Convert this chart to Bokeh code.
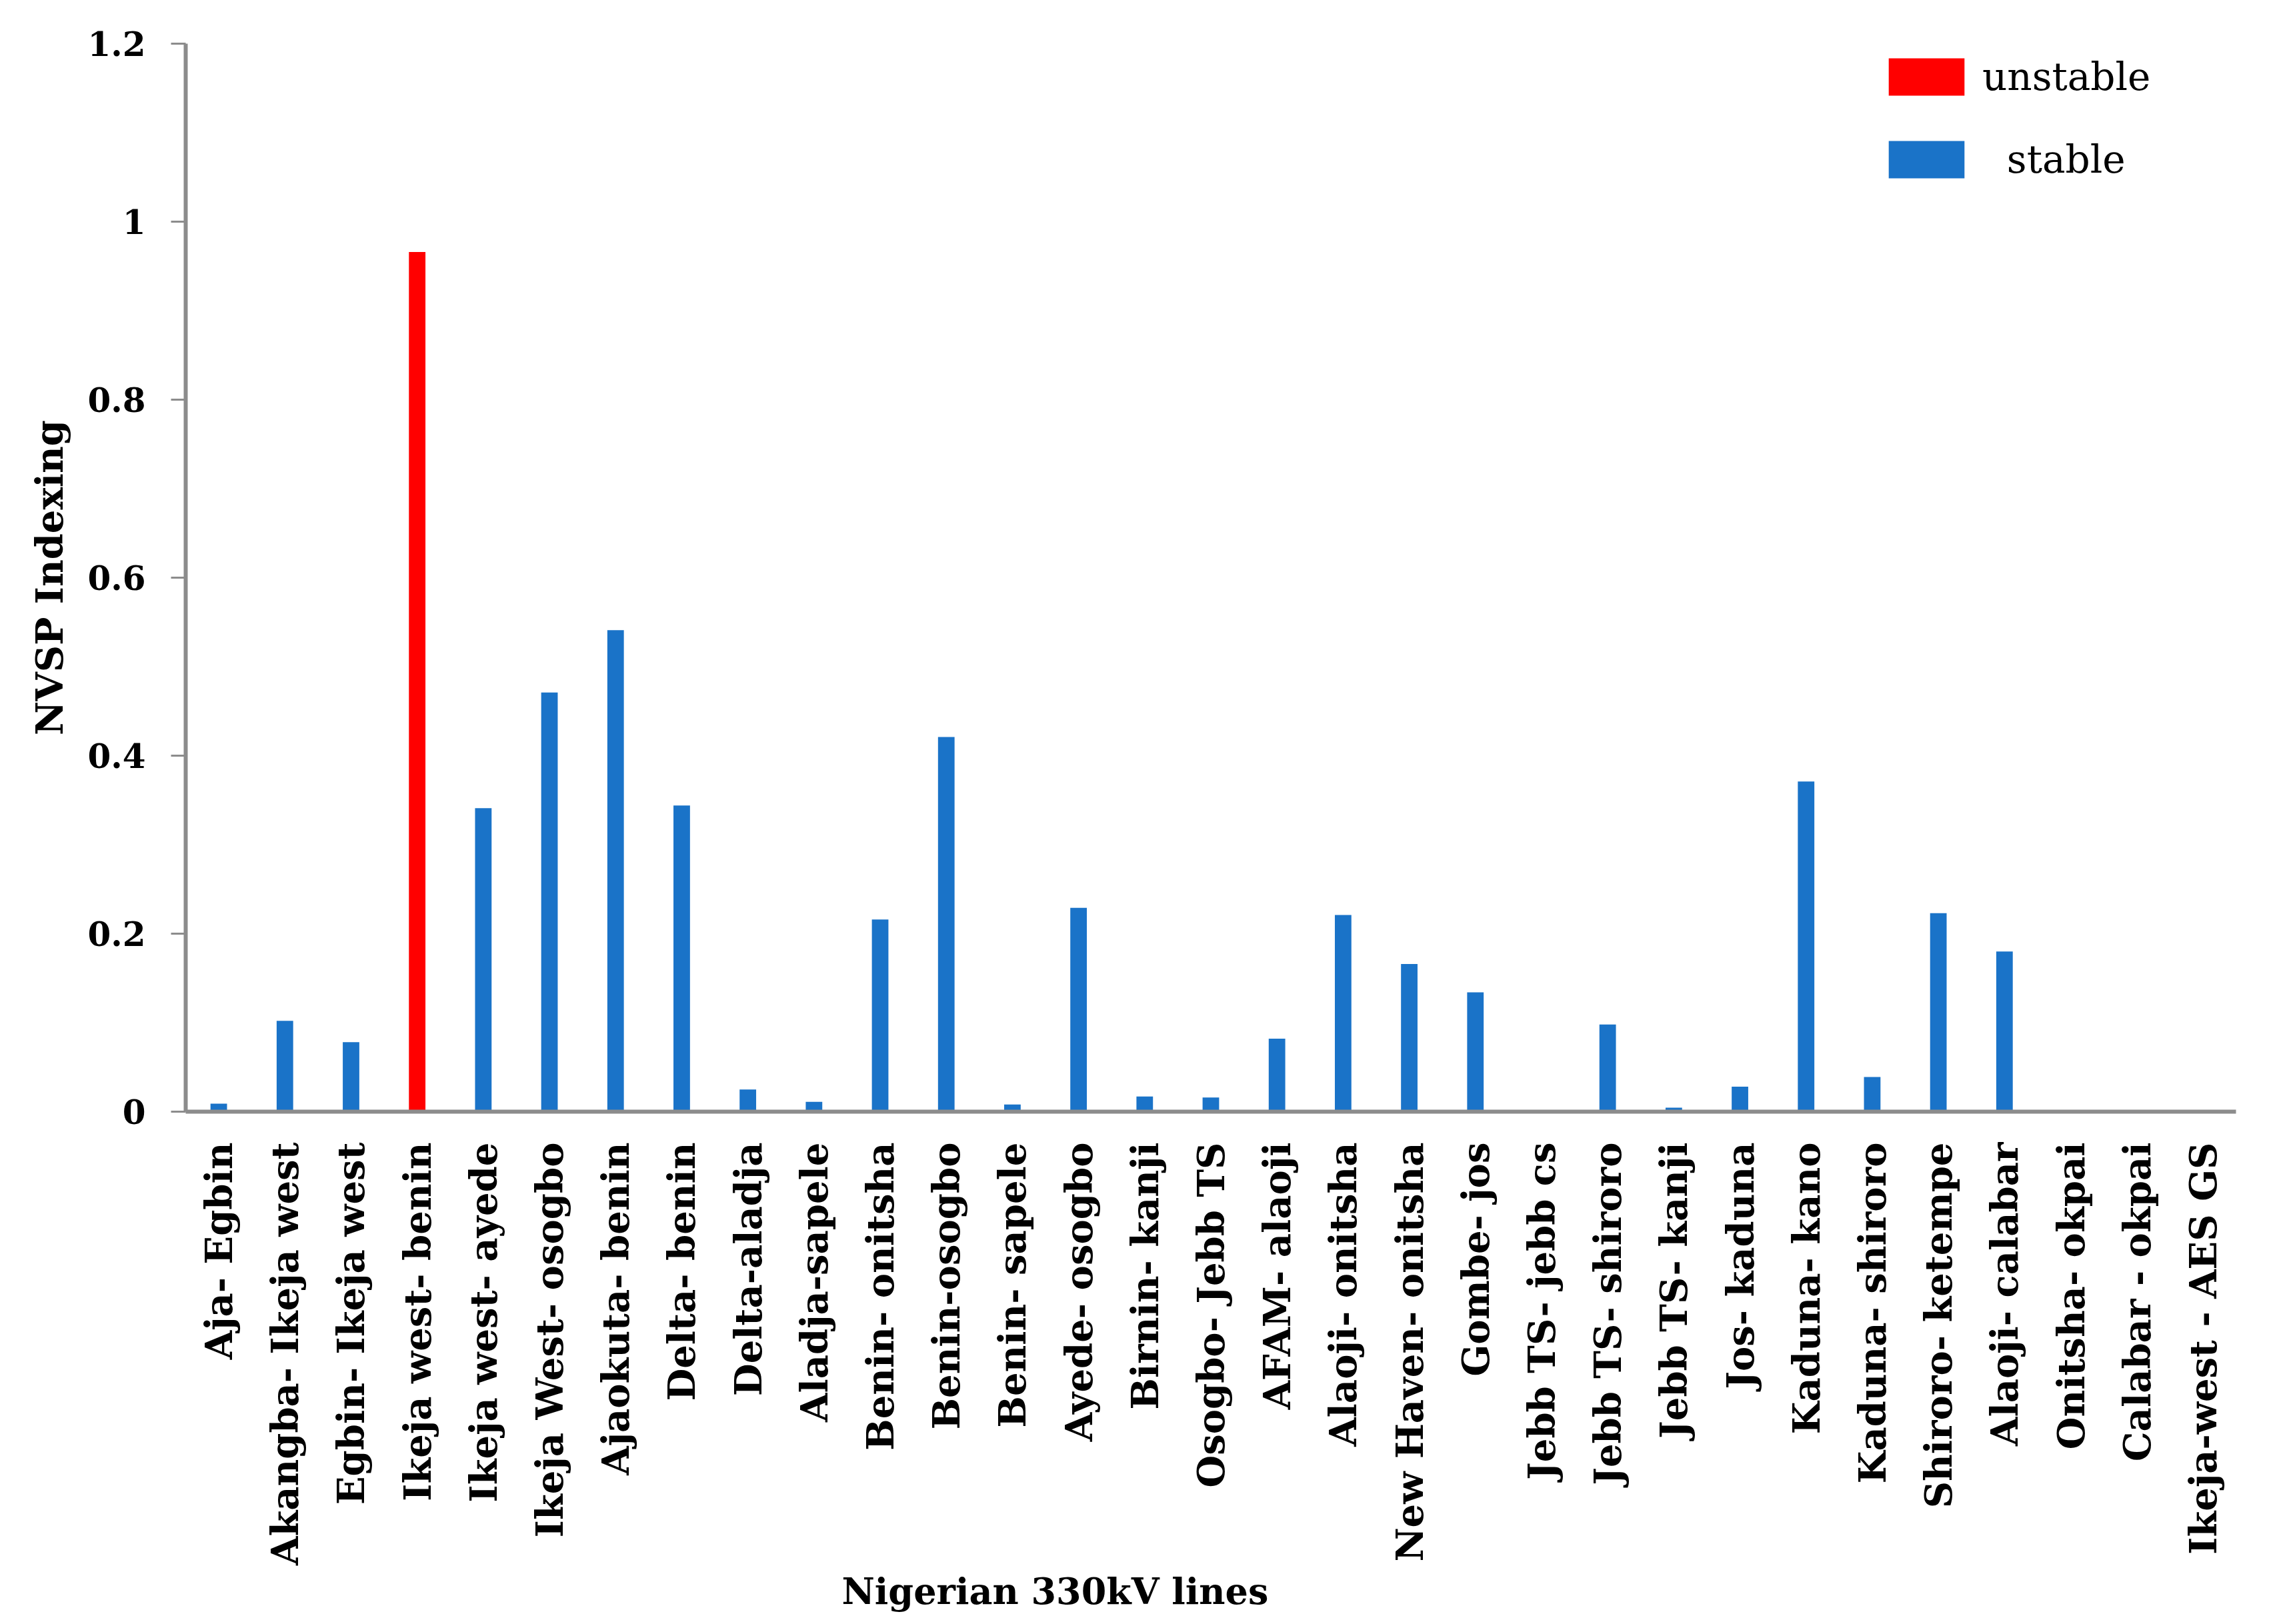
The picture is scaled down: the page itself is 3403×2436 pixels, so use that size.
from bokeh.plotting import figure
from bokeh.models import FactorRange, Range1d, FixedTicker, Legend, LegendItem, ColumnDataSource, Title
from bokeh.embed import file_html
from bokeh.resources import INLINE

lines = [
    "Aja- Egbin", "Akangba- Ikeja west", "Egbin- Ikeja west", "Ikeja west- benin",
    "Ikeja west- ayede", "Ikeja West- osogbo", "Ajaokuta- benin", "Delta- benin",
    "Delta-aladja", "Aladja-sapele", "Benin- onitsha", "Benin-osogbo", "Benin- sapele",
    "Ayede- osogbo", "Birnin- kanji", "Osogbo- Jebb TS", "AFAM- alaoji", "Alaoji- onitsha",
    "New Haven- onitsha", "Gombe- jos", "Jebb TS- jebb cs", "Jebb TS- shiroro",
    "Jebb TS- kanji", "Jos- kaduna", "Kaduna- kano", "Kaduna- shiroro", "Shiroro- ketempe",
    "Alaoji- calabar", "Onitsha- okpai", "Calabar - okpai", "Ikeja-west - AES GS",
]
nvsp = [
    0.009, 0.102, 0.078, 0.966, 0.341, 0.471, 0.541, 0.344, 0.025, 0.011, 0.216,
    0.421, 0.008, 0.229, 0.017, 0.016, 0.082, 0.221, 0.166, 0.134, 0.0, 0.098,
    0.0045, 0.028, 0.371, 0.039, 0.223, 0.180, 0.0, 0.0, 0.0,
]
status = ["stable"] * len(lines)
status[3] = "unstable"

y_ticks = [0, 0.2, 0.4, 0.6, 0.8, 1.0, 1.2]
y_tick_labels = ["0", "0.2", "0.4", "0.6", "0.8", "1", "1.2"]
x_title = "Nigerian 330kV lines"
y_title = "NVSP Indexing"

RED = "#ff0000"
BLUE = "#1a73c8"
GREY = "#8c8c8c"
FONT = "DejaVu Serif"

p = figure(
    width=3400, height=2432,
    x_range=FactorRange(factors=lines, range_padding=0),
    y_range=Range1d(0, 1.2),
    output_backend="svg", toolbar_location=None,
    min_border_left=278, min_border_right=47, min_border_top=65, min_border_bottom=765,
)
p.outline_line_color = None
p.xgrid.grid_line_color = None
p.ygrid.grid_line_color = None

un_src = ColumnDataSource(dict(x=[l for l, s in zip(lines, status) if s == "unstable"],
                               top=[v for v, s in zip(nvsp, status) if s == "unstable"]))
st_src = ColumnDataSource(dict(x=[l for l, s in zip(lines, status) if s == "stable"],
                               top=[v for v, s in zip(nvsp, status) if s == "stable"]))
r_un = p.vbar(x="x", top="top", width=0.25, source=un_src, color=RED, line_color=None)
r_st = p.vbar(x="x", top="top", width=0.25, source=st_src, color=BLUE, line_color=None)

# y axis
p.yaxis.ticker = FixedTicker(ticks=y_ticks)
p.yaxis.major_label_overrides = {t: s for t, s in zip(y_ticks, y_tick_labels)}
p.yaxis.minor_tick_line_color = None
p.yaxis.major_tick_out = 22
p.yaxis.major_tick_in = 0
p.yaxis.major_tick_line_color = GREY
p.yaxis.major_tick_line_width = 3
p.yaxis.axis_line_color = GREY
p.yaxis.axis_line_width = 6
p.yaxis.major_label_standoff = 38
p.yaxis.major_label_text_font = FONT
p.yaxis.major_label_text_font_style = "bold"
p.yaxis.major_label_text_font_size = "50px"
p.yaxis.major_label_text_color = "black"
p.yaxis.axis_label = y_title
p.yaxis.axis_label_text_font = FONT
p.yaxis.axis_label_text_font_style = "bold"
p.yaxis.axis_label_text_font_size = "56px"
p.yaxis.axis_label_text_color = "black"
p.yaxis.axis_label_standoff = 22

# x axis
p.xaxis.major_tick_line_color = None
p.xaxis.minor_tick_line_color = None
p.xaxis.axis_line_color = GREY
p.xaxis.axis_line_width = 6
p.xaxis.major_label_orientation = 1.5707963
p.xaxis.major_label_standoff = 40
p.xaxis.major_label_text_font = FONT
p.xaxis.major_label_text_font_style = "bold"
p.xaxis.major_label_text_font_size = "56px"
p.xaxis.major_label_text_color = "black"

p.add_layout(Title(
    text=x_title, align="left", offset=984, standoff=4,
    text_font=FONT, text_font_style="bold", text_font_size="54px", text_color="black",
), "below")

legend = Legend(
    items=[LegendItem(label="unstable", renderers=[r_un]),
           LegendItem(label="  stable", renderers=[r_st])],
    location=(2540, 1393),
    glyph_width=142, glyph_height=70, label_height=58,
    label_text_font=FONT, label_text_font_size="58px", label_text_color="black",
    label_standoff=13, spacing=54, padding=0, margin=0,
    border_line_color=None, background_fill_alpha=0,
)
p.add_layout(legend, "center")

open("out.html", "w").write(file_html(p, INLINE))
